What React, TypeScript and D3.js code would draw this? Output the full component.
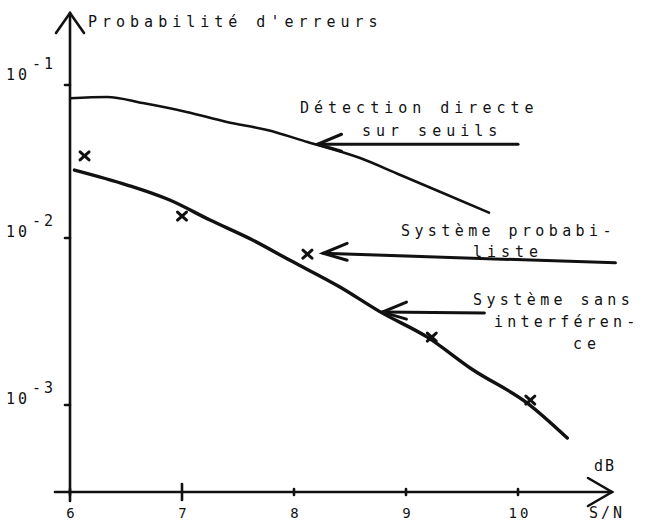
import * as d3 from "d3";

// S/N (dB) on x, error probability (log) on y
const xTicks = [6, 7, 8, 9, 10];
const yTicks = [1e-1, 1e-2, 1e-3];
const yTickExps = ["-1", "-2", "-3"];

const seuilsX = [6.0, 6.33, 6.65, 7.04, 7.4, 7.76, 8.12, 8.59, 8.95, 9.35, 9.75];
const seuilsY = [0.082, 0.0835, 0.0762, 0.0667, 0.0573, 0.0508, 0.0424, 0.0333, 0.0258, 0.0194, 0.01455];

const sansX = [6.04, 6.51, 6.89, 7.25, 7.63, 7.96, 8.41, 8.77, 9.19, 9.6, 10.08, 10.44];
const sansY = [0.0278, 0.0222, 0.0177, 0.0131, 0.00973, 0.00738, 0.00509, 0.00361, 0.00255, 0.00162, 0.00103, 0.000634];

const probaX = [6.13, 7.0, 8.12, 9.23, 10.11];
const probaY = [0.0344, 0.0139, 0.008, 0.00255, 0.00107];

// annotation arrows: tip and tail in data units
const arrowTipX = [8.21, 8.26, 8.79];
const arrowTipY = [0.041, 0.0081, 0.0036];
const arrowTailX = [10.0, 10.87, 9.7];
const arrowTailY = [0.041, 0.0071, 0.00356];

const FONT = "'DejaVu Sans Mono', monospace";

export default function App() {
  const width = 656;
  const height = 524;

  const x = d3.scaleLinear().domain([6, 10]).range([70, 518]);
  const y = d3.scaleLog().domain([1e-3, 1e-2, 1e-1]).range([405, 238, 85]);

  const axisY = 492;
  const axisX = x(6);

  const line = d3
    .line<[number, number]>()
    .x((d) => x(d[0]))
    .y((d) => y(d[1]))
    .curve(d3.curveMonotoneX);

  const seuilsPath = line(seuilsX.map((v, i) => [v, seuilsY[i]]));
  const sansPath = line(sansX.map((v, i) => [v, sansY[i]]));

  const textStyle = {
    fontFamily: FONT,
    fontSize: 15,
    letterSpacing: 5,
    fill: "#111",
  };

  return (
    <svg width={width} height={height} style={{ position: "absolute", left: 0, top: 0 }}>
      <rect width={width} height={height} fill="#fff" />

      {/* axes */}
      <g stroke="#111" strokeWidth={2.6} fill="none" strokeLinecap="round">
        <line x1={axisX} y1={501} x2={axisX} y2={13} />
        <polyline points={`${axisX - 14},33 ${axisX},13 ${axisX + 14},33`} />
        <line x1={55} y1={axisY} x2={612} y2={axisY} />
        <polyline points={`588,478 612,${axisY} 588,506`} />
        {xTicks.map((t) => (
          <line key={t} x1={x(t)} x2={x(t)} y1={axisY - (t === 7 ? 8 : 3)} y2={axisY + (t === 7 ? 8 : 3)} />
        ))}
        {yTicks.map((t) => (
          <line key={t} x1={axisX - 5} x2={axisX} y1={y(t)} y2={y(t)} />
        ))}
      </g>

      {/* tick labels */}
      {xTicks.map((t) => (
        <text key={t} x={x(t) + 2} y={518} textAnchor="middle" style={{ ...textStyle, fontSize: 14, letterSpacing: 3 }}>
          {t}
        </text>
      ))}
      {yTicks.map((t, i) => (
        <text key={t} x={6} y={y(t) - (i === 0 ? 5 : 1)} style={{ ...textStyle, letterSpacing: 3 }}>
          10
          <tspan dx={2} dy={-11}>{yTickExps[i]}</tspan>
        </text>
      ))}

      <text x={88} y={27} style={textStyle}>Probabilité d'erreurs</text>
      <text x={594} y={471} style={{ ...textStyle, letterSpacing: 2 }}>dB</text>
      <text x={589} y={518} style={{ ...textStyle, letterSpacing: 3 }}>S/N</text>

      {/* curves */}
      <path d={seuilsPath ?? ""} fill="none" stroke="#111" strokeWidth={2.6} />
      <path d={sansPath ?? ""} fill="none" stroke="#111" strokeWidth={3.4} strokeLinecap="round" />

      {/* crosses */}
      <g stroke="#111" strokeWidth={3} strokeLinecap="round">
        {probaX.map((v, i) => {
          const cx = x(v);
          const cy = y(probaY[i]);
          return (
            <g key={i}>
              <line x1={cx - 4.5} y1={cy - 4} x2={cx + 4.5} y2={cy + 4} />
              <line x1={cx - 4.5} y1={cy + 4} x2={cx + 4.5} y2={cy - 4} />
            </g>
          );
        })}
      </g>

      {/* annotation arrows */}
      <g stroke="#111" strokeWidth={3} fill="none" strokeLinecap="round">
        {arrowTipX.map((v, i) => {
          const tx = x(v);
          const ty = y(arrowTipY[i]);
          const ex = x(arrowTailX[i]);
          const ey = y(arrowTailY[i]);
          return (
            <g key={i}>
              <line x1={tx} y1={ty} x2={ex} y2={ey} />
              <polyline points={`${tx + 24},${ty - 10} ${tx},${ty} ${tx + 24},${ty + 7}`} />
            </g>
          );
        })}
      </g>

      {/* labels */}
      <text x={300} y={113} style={textStyle}>Détection directe</text>
      <text x={362} y={136} style={textStyle}>sur seuils</text>
      <text x={401} y={236} style={{ ...textStyle, letterSpacing: 4.4 }}>Système probabi-</text>
      <text x={473} y={257} style={textStyle}>liste</text>
      <text x={473} y={305} style={{ ...textStyle, letterSpacing: 4.4 }}>Système sans</text>
      <text x={494} y={327} style={{ ...textStyle, letterSpacing: 4.2 }}>interféren-</text>
      <text x={573} y={349} style={textStyle}>ce</text>
    </svg>
  );
}
